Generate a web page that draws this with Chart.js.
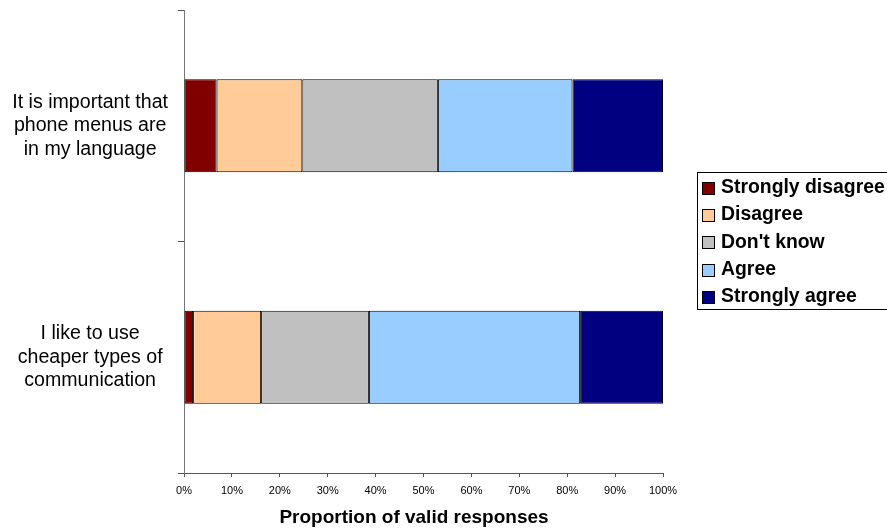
<!DOCTYPE html>
<html>
<head>
<meta charset="utf-8">
<script src="https://cdn.jsdelivr.net/npm/chart.js@4"></script>
<style>
  html, body { margin: 0; padding: 0; background: #fff; }
  #wrap { width: 887px; height: 528px; }
</style>
</head>
<body>
<div id="wrap"><canvas id="c" width="887" height="528"></canvas></div>
<script>
// Survey statements (one bar each), split into display lines
const categories = [
  ["It is important that", "phone menus are", "in my language"],
  ["I like to use", "cheaper types of", "communication"]
];

// Response shares per statement, in percent
const stronglyDisagree = [6.8, 1.9];
const disagree         = [17.9, 14.2];
const dontKnow         = [28.3, 22.5];
const agree            = [28.1, 44.1];
const stronglyAgree    = [18.9, 17.3];

const seriesNames  = ["Strongly disagree", "Disagree", "Don't know", "Agree", "Strongly agree"];
const seriesColors = ["#800000", "#FFCC99", "#C0C0C0", "#99CCFF", "#000080"];
const seriesValues = [stronglyDisagree, disagree, dontKnow, agree, stronglyAgree];

const xTickValues = [0, 10, 20, 30, 40, 50, 60, 70, 80, 90, 100];
const xAxisTitle = "Proportion of valid responses";

const FONT = "'Liberation Sans', Arial, Helvetica, sans-serif";

const datasets = seriesNames.map((name, i) => ({
  label: name,
  data: seriesValues[i],
  backgroundColor: seriesColors[i],
  borderColor: "#000",
  borderWidth: 1,
  borderSkipped: false,
  barPercentage: 0.402,
  categoryPercentage: 1.0
}));

// Boxed legend on the right and the bottom axis title
const sideLegend = {
  id: "sideLegend",
  afterDraw(chart) {
    const ctx = chart.ctx;
    ctx.save();
    ctx.strokeStyle = "#000";
    ctx.lineWidth = 1;
    ctx.strokeRect(697.5, 172.5, 200, 137);
    ctx.font = "bold 19.4px " + FONT;
    ctx.textBaseline = "middle";
    ctx.textAlign = "left";
    chart.data.datasets.forEach((ds, i) => {
      const cy = 187.5 + i * 27.4;
      ctx.fillStyle = ds.backgroundColor;
      ctx.fillRect(702, Math.round(cy - 6), 12, 12);
      ctx.strokeStyle = "#000";
      ctx.strokeRect(702.5, Math.round(cy - 6) + 0.5, 12, 12);
      ctx.fillStyle = "#000";
      ctx.fillText(ds.label, 721, cy);
    });
    ctx.font = "bold 19px " + FONT;
    ctx.textAlign = "center";
    ctx.fillText(xAxisTitle, 414, 518);
    ctx.restore();
  }
};

new Chart(document.getElementById("c"), {
  type: "bar",
  data: { labels: categories, datasets },
  options: {
    indexAxis: "y",
    responsive: false,
    animation: false,
    layout: { autoPadding: false, padding: { top: 10, right: 224, left: 0, bottom: 0 } },
    plugins: { legend: { display: false }, tooltip: { enabled: false } },
    scales: {
      x: {
        stacked: true,
        min: 0,
        max: 100,
        afterBuildTicks(scale) {
          scale.ticks = xTickValues.map(v => ({ value: v }));
        },
        afterFit(scale) { scale.height = 55; scale.paddingLeft = 0; scale.paddingRight = 0; },
        border: { color: "#555", width: 1 },
        grid: { drawOnChartArea: false, tickLength: 4, color: "#555" },
        ticks: {
          padding: 7,
          color: "#000",
          font: { family: FONT, size: 11 },
          maxRotation: 0,
          callback: v => v + "%"
        }
      },
      y: {
        stacked: true,
        afterFit(scale) { scale.width = 184; scale.paddingTop = 0; scale.paddingBottom = 0; },
        border: { color: "#777", width: 1 },
        grid: { drawOnChartArea: false, tickLength: 6, color: "#555", offset: true },
        ticks: {
          crossAlign: "center",
          padding: 10,
          color: "#000",
          font: { family: FONT, size: 19.6, lineHeight: 1.2 }
        }
      }
    }
  },
  plugins: [sideLegend]
});
</script>
</body>
</html>
